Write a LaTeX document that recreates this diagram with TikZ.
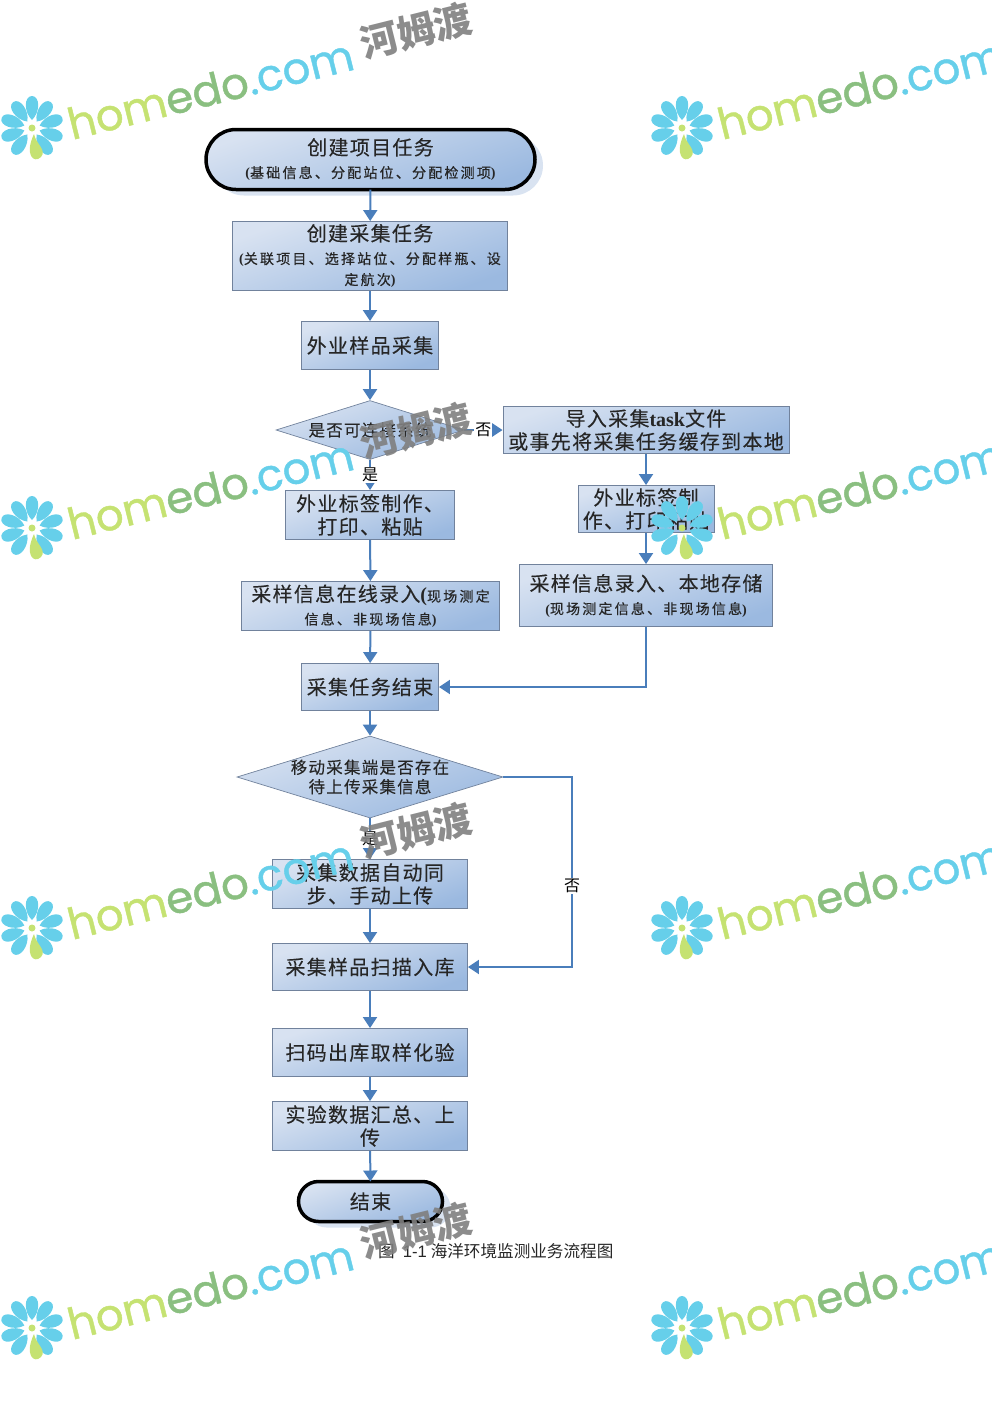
\documentclass[tikz,border=0pt]{standalone}
\usepackage{fontspec}
\usetikzlibrary{arrows.meta,shapes.geometric,shapes.misc,shadows}
\setmainfont{Noto Sans CJK SC}
\newfontfamily\bigfam[LetterSpace=6.5,FakeBold=0.1]{Noto Sans CJK SC}
\newfontfamily\subfam[LetterSpace=15.7,FakeBold=0.5]{Noto Sans CJK SC}
\newfontfamily\midfam[LetterSpace=7.5,FakeBold=0.1]{Noto Sans CJK SC}
\newfontfamily\latfam{Liberation Serif}
\newfontfamily\capfam{Liberation Sans}
\newfontfamily\wmfam[FakeBold=1.0]{Poppins}
\newcommand{\bigtxt}{\fontsize{20}{23}\bigfam}
\newcommand{\subtxt}{\fontsize{14}{21}\subfam}
\newcommand{\midtxt}{\fontsize{16.5}{20}\midfam}
\newcommand{\lat}[1]{{\latfam\bfseries #1}}
\definecolor{boxlight}{HTML}{D8E2F1}
\definecolor{boxdark}{HTML}{9BB9E0}
\definecolor{boxline}{HTML}{71829C}
\definecolor{flowblue}{HTML}{4A7EBB}
\definecolor{shadowblue}{HTML}{D9E3F1}
\definecolor{wmcyan}{HTML}{66CFEA}
\definecolor{wmlime}{HTML}{C5E272}
\definecolor{wmgreen}{HTML}{8ABF80}
\definecolor{wmgray}{HTML}{7F7F7F}
\tikzset{
  filled/.style={top color=boxlight,bottom color=boxdark,shading angle=20},
  stepbox/.style={filled,draw=boxline,line width=0.9pt,font=\bigtxt,align=center,inner sep=0pt,text=black!85},
  decision/.style={filled,draw=boxline,line width=0.7pt,diamond,font=\midtxt,inner sep=0pt,text=black!85},
  terminal/.style={filled,draw=black,line width=3.5pt,rounded rectangle,font=\bigtxt,align=center,inner sep=0pt,outer sep=0pt,text=black!85,
    general shadow={fill=shadowblue,shadow xshift=8pt,shadow yshift=-6pt}},
  flow/.style={draw=flowblue,line width=2pt,-{Triangle[width=14pt,length=11pt]}},
  flowlbl/.style={fill=white,inner sep=1pt,font=\fontsize{16}{17}\selectfont,text=black},
  petal/.style={fill=wmcyan,draw=none},
}
\begin{document}
\begin{tikzpicture}[x=1pt,y=-1pt]
\useasboundingbox (0,0) rectangle (992,1403);
\node[terminal,minimum width=329pt,minimum height=60pt] (start) at (370.5,159.5) {创建项目任务\\{\subtxt\lat{(}基础信息、分配站位、分配检测项\lat{)}}};
\node[stepbox,minimum width=275pt,minimum height=69pt] (collect) at (370,256) {创建采集任务\\{\subtxt\lat{(}关联项目、选择站位、分配样瓶、设}\\[-2pt]{\subtxt 定航次\lat{)}}};
\node[stepbox,minimum width=137pt,minimum height=48pt] (field) at (370,345.5) {外业样品采集};
\node[decision,minimum width=188pt,minimum height=59pt,aspect=3.2] (link) at (370,430) {是否可连接系统};
\node[stepbox,minimum width=286pt,minimum height=47pt] (import) at (646,430) {导入采集\lat{task}文件\\或事先将采集任务缓存到本地};
\node[stepbox,minimum width=169pt,minimum height=49pt] (label) at (370,515) {外业标签制作、\\打印、粘贴};
\node[stepbox,minimum width=136pt,minimum height=47pt] (locallabel) at (646,509) {外业标签制\\作、打印粘贴};
\node[stepbox,minimum width=258pt,minimum height=49pt] (online) at (370.5,606) {采样信息在线录入\lat{(}{\subtxt 现场测定}\\{\subtxt 信息、非现场信息\lat{)}}};
\node[stepbox,minimum width=253pt,minimum height=62pt] (localentry) at (646,595.5) {采样信息录入、本地存储\\{\subtxt\lat{(}现场测定信息、非现场信息\lat{)}}};
\node[stepbox,minimum width=137pt,minimum height=47pt] (finish) at (370,687) {采集任务结束};
\node[decision,minimum width=266pt,minimum height=82pt,aspect=3.24] (pending) at (370,777) {\makebox[0pt]{\shortstack{移动采集端是否存在\\[1pt]待上传采集信息}}};
\node[stepbox,minimum width=195pt,minimum height=49pt] (sync) at (370,884) {采集数据自动同\\步、手动上传};
\node[stepbox,minimum width=195pt,minimum height=47pt] (scan) at (370,967) {采集样品扫描入库};
\node[stepbox,minimum width=195pt,minimum height=48pt] (assay) at (370,1052.5) {扫码出库取样化验};
\node[stepbox,minimum width=195pt,minimum height=49pt] (report) at (370,1126) {实验数据汇总、上\\传};
\node[terminal,minimum width=144pt,minimum height=40pt] (end) at (370.5,1201.5) {结束};
\coordinate (turn) at (572,777);
\path[flow] (start) -- (collect);
\path[flow] (collect) -- (field);
\path[flow] (field) -- (link);
\path[flow] (link) -- node[flowlbl] (no1) {否} (import);
\path[flow] (link) -- node[flowlbl] (yes1) {是} (label);
\path[flow] (label) -- (online);
\path[flow] (online) -- (finish);
\path[flow] (import) -- (locallabel);
\path[flow] (locallabel) -- (localentry);
\path[flow] (localentry.south) |- (finish.east);
\path[flow] (finish) -- (pending);
\path[flow] (pending) -- node[flowlbl] (yes2) {是} (sync);
\path[flow] (sync) -- (scan);
\path[flow] (pending.east) -- (turn) -- node[flowlbl,pos=0.575] (no2) {否} (turn |- scan.east) -- (scan.east);
\path[flow] (scan) -- (assay);
\path[flow] (assay) -- (report);
\path[flow] (report) -- (end);
\node[font=\fontsize{16.6}{18}\selectfont,text=black!85,inner sep=0pt,anchor=west] (caption) at (378,1251) {图\hspace{8pt}{\capfam 1-1}\hspace{4pt}海洋环境监测业务流程图};
\foreach \col in {0,650} {
  \foreach \row in {0,400,800,1200} {
    \begin{scope}[xshift=\col pt,yshift=-\row pt]
    \foreach \ang in {-144,-108,-72,-36,0,36,72,108,144} {
      \fill[petal,shift={(32,128)},rotate=\ang] (0,-8) .. controls (-8.5,-16) and (-8,-32) .. (0,-32) .. controls (8,-32) and (8.5,-16) .. (0,-8) -- cycle;
    }
    \fill[wmlime] (34,134) .. controls (36,144) and (47,150) .. (41,157) .. controls (34,164) and (24,155) .. (34,134) -- cycle;
    \fill[wmlime] (32,128) circle (3.5pt);
    \node[rotate=14,anchor=base west,inner sep=0pt,font=\fontsize{43.5}{44}\wmfam] (brand\col\row) at (72,140) {\textcolor{wmlime}{hom}\textcolor{wmgreen}{edo}\textcolor{wmcyan}{.com}};
    \node[rotate=14,inner sep=0pt,text=wmgray,opacity=0.9,font=\fontsize{38}{38}\selectfont\bfseries] (cn\col\row) at (416,31) {河姆渡};
    \end{scope}
  }
}
\end{tikzpicture}
\end{document}
